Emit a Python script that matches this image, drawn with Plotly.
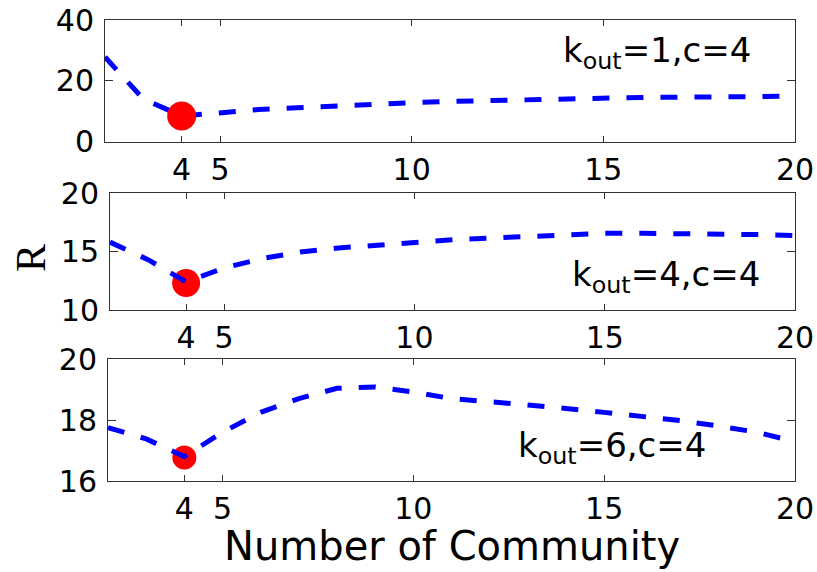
import plotly.graph_objects as go

W, H = 817, 572

# ---- data ----
x_vals = list(range(2, 21))
r_kout1 = [27.8, 14.0, 8.4, 9.6, 10.5, 11.1, 11.8, 12.3, 12.8, 13.2, 13.5, 13.8, 14.1, 14.3, 14.5, 14.6, 14.7, 14.8, 14.9]
r_kout4 = [15.8, 14.3, 12.4, 13.6, 14.4, 14.95, 15.3, 15.55, 15.85, 16.0, 16.15, 16.3, 16.45, 16.55, 16.55, 16.55, 16.55, 16.45, 16.35]
r_kout6 = [17.75, 17.38, 16.8, 17.6, 18.25, 18.7, 19.04, 19.08, 18.92, 18.7, 18.6, 18.5, 18.38, 18.25, 18.12, 17.98, 17.8, 17.6, 17.29]
min_x = [4, 4, 4]
min_y = [8.4, 12.3, 16.77]
panel_labels = ["k<sub>out</sub>=1,c=4", "k<sub>out</sub>=4,c=4", "k<sub>out</sub>=6,c=4"]
x_ticks = [4, 5, 10, 15, 20]
y_ticks = [[0, 20, 40], [10, 15, 20], [16, 18, 20]]
y_ranges = [[0, 40], [10, 20], [16, 20]]
marker_sizes = [29, 28, 24]

series = [r_kout1, r_kout4, r_kout6]

# pixel layout helpers
def px_x(p):
    return p / W

def px_y(p):
    return 1 - p / H

x_domains = [[105, 795], [110, 795], [108, 795]]
y_domains = [[20, 141.5], [193, 310], [359, 481]]

fig = go.Figure()
LINE = dict(color="#0000FF", width=5, dash="17px,17px")
for i in range(3):
    xa = "x" if i == 0 else f"x{i+1}"
    ya = "y" if i == 0 else f"y{i+1}"
    line_tr = go.Scatter(x=x_vals, y=series[i], mode="lines", line=LINE,
                         xaxis=xa, yaxis=ya, showlegend=False)
    dot_tr = go.Scatter(x=[min_x[i]], y=[min_y[i]], mode="markers",
                        marker=dict(color="#FF0000", size=marker_sizes[i], line=dict(width=0)),
                        xaxis=xa, yaxis=ya, showlegend=False)
    if i == 0:
        fig.add_trace(line_tr)
        fig.add_trace(dot_tr)
    else:
        fig.add_trace(dot_tr)
        fig.add_trace(line_tr)

TICKFONT = dict(family="DejaVu Sans", size=30, color="black")
layout = dict(
    width=W, height=H,
    margin=dict(l=0, r=0, t=0, b=0, autoexpand=False),
    paper_bgcolor="white", plot_bgcolor="white",
    showlegend=False,
)
for i in range(3):
    xk = "xaxis" if i == 0 else f"xaxis{i+1}"
    yk = "yaxis" if i == 0 else f"yaxis{i+1}"
    ya = "y" if i == 0 else f"y{i+1}"
    xa = "x" if i == 0 else f"x{i+1}"
    layout[xk] = dict(
        domain=[px_x(x_domains[i][0]), px_x(x_domains[i][1])],
        range=[2, 20], anchor=ya, automargin=False,
        tickmode="array", tickvals=x_ticks, ticktext=[str(t) for t in x_ticks],
        ticks="inside", ticklen=6, tickcolor="#333", tickwidth=1,
        showline=True, linecolor="#333", linewidth=1, mirror="ticks",
        showgrid=False, zeroline=False, tickfont=TICKFONT,
        ticklabelstandoff=1,
    )
    layout[yk] = dict(
        domain=[px_y(y_domains[i][1]), px_y(y_domains[i][0])],
        range=y_ranges[i], anchor=xa, automargin=False,
        tickmode="array", tickvals=y_ticks[i], ticktext=[str(t) for t in y_ticks[i]],
        ticks="inside", ticklen=8, tickcolor="#333", tickwidth=1,
        showline=True, linecolor="#333", linewidth=1, mirror="ticks",
        showgrid=False, zeroline=False, tickfont=TICKFONT,
        ticklabelstandoff=4,
    )

annotations = []
label_pos = [(561, 52), (570, 276), (516, 447)]
for i in range(3):
    annotations.append(dict(
        text=panel_labels[i], xref="paper", yref="paper",
        x=px_x(label_pos[i][0]), y=px_y(label_pos[i][1]),
        xanchor="left", yanchor="middle", showarrow=False,
        font=dict(family="DejaVu Sans", size=34, color="black"),
    ))
annotations.append(dict(
    text="Number of Community", xref="paper", yref="paper",
    x=px_x(452), y=px_y(546), xanchor="center", yanchor="middle",
    showarrow=False, font=dict(family="DejaVu Sans", size=40, color="black"),
))
annotations.append(dict(
    text="R", xref="paper", yref="paper",
    x=px_x(31), y=px_y(258), xanchor="center", yanchor="middle",
    textangle=-90, showarrow=False,
    font=dict(family="Liberation Serif", size=42, color="black"),
))
layout["annotations"] = annotations
fig.update_layout(**layout)
fig.write_html("out.html")
